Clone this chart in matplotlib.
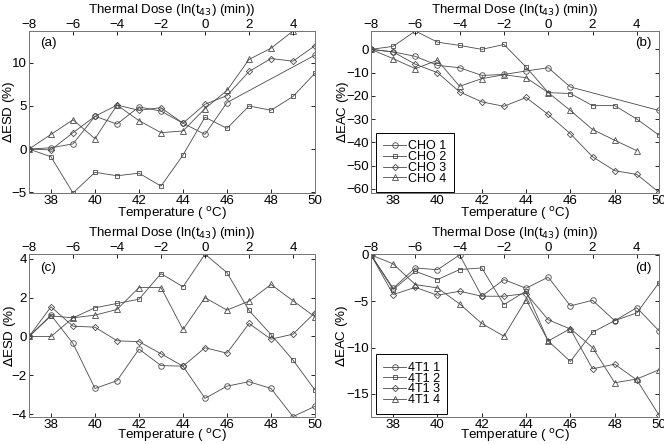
import matplotlib
matplotlib.use('Agg')
import matplotlib.pyplot as plt
import numpy as np

plt.rcParams['font.family'] = ['Liberation Sans', 'DejaVu Sans']
plt.rcParams['font.size'] = 9.6
plt.rcParams['xtick.direction'] = 'in'
plt.rcParams['ytick.direction'] = 'in'
plt.rcParams['xtick.major.size'] = 3
plt.rcParams['ytick.major.size'] = 3

temp = [37, 38, 39, 40, 41, 42, 43, 44, 45, 46, 47, 48, 49, 50]
temp_c1 = [37, 38, 39, 40, 41, 42, 43, 44, 45, 46, 50]   # CHO 1 has gaps
temp_4 = temp[:-1]                                      # CHO 4 ends at 49

# (a) delta ESD, CHO
esd_cho1 = [0, 0.15, 0.6, 3.8, 2.9, 4.9, 4.4, 3.0, 1.7, 5.4, 10.9]
esd_cho2 = [0, -0.9, -5.1, -2.7, -3.1, -2.8, -4.3, -0.7, 3.7, 2.4, 5.0, 4.5, 6.1, 8.8]
esd_cho3 = [0, -0.1, 1.9, 3.8, 5.1, 4.5, 4.8, 3.0, 5.2, 6.2, 9.0, 10.5, 10.2, 12.0]
esd_cho4 = [0, 1.7, 3.4, 1.2, 5.1, 3.3, 1.9, 2.1, 4.7, 6.8, 10.4, 11.7, 13.7]

# (b) delta EAC, CHO
eac_cho1 = [0, -1.1, -3.0, -6.9, -7.9, -11.2, -10.8, -9.3, -7.9, -16.2, -26.3]
eac_cho2 = [0, 1.3, 7.9, 3.1, 1.7, 0, 2.1, -7.6, -18.6, -19.0, -24.2, -24.2, -30.0, -36.9]
eac_cho3 = [0, -1.1, -6.4, -10.0, -18.3, -22.6, -24.5, -20.7, -28.0, -36.3, -46.2, -52.2, -53.8, -61.5]
eac_cho4 = [0, -4.0, -8.3, -4.7, -15.9, -12.6, -10.9, -12.2, -18.6, -26.3, -34.5, -39.1, -43.6]

# (c) delta ESD, 4T1
esd_4t1_1 = [0, 1.1, -0.36, -2.68, -2.28, -0.65, -1.5, -1.53, -3.19, -2.56, -2.33, -2.68, -4.13, -3.6]
esd_4t1_2 = [0, 1.06, 0.96, 1.48, 1.7, 1.92, 3.24, 2.56, 4.24, 3.29, 1.34, 0.1, -1.22, -2.76]
esd_4t1_3 = [0, 1.53, 0.53, 0.48, -0.22, -0.27, -0.89, -1.53, -0.58, -0.86, 0.67, -0.14, 0.12, 1.23]
esd_4t1_4 = [0, 0, 0.96, 1.1, 1.39, 2.52, 2.52, 0.36, 2.0, 1.36, 1.82, 2.68, 1.84, 1.01]

# (d) delta EAC, 4T1
eac_4t1_1 = [0, -3.6, -1.4, -1.6, 0.0, -4.46, -2.66, -3.6, -2.4, -5.5, -4.9, -7.1, -5.7, -8.2]
eac_4t1_2 = [0, -3.74, -1.76, -2.66, -1.58, -1.4, -5.36, -3.9, -9.3, -11.5, -8.35, -7.1, -6.26, -3.0]
eac_4t1_3 = [0, -4.28, -3.5, -4.35, -3.92, -4.46, -4.46, -4.17, -7.0, -8.0, -12.3, -11.8, -13.5, -17.3]
eac_4t1_4 = [0, -0.97, -3.2, -3.56, -5.29, -7.4, -8.78, -4.82, -9.3, -7.95, -10.0, -13.8, -13.4, -12.4]

markers = ['o', 's', 'D', '^']
msizes = [4.0, 3.3, 3.2, 4.2]
col = '#4a4a4a'

fig = plt.figure(figsize=(6.64, 4.44), dpi=100)
W, H = 664.0, 444.0
boxes = [(29, 31, 315, 193), (371, 31, 659, 193),
         (29, 254, 315, 417), (371, 254, 659, 417)]

panels = [
    ([(temp_c1, esd_cho1), (temp, esd_cho2), (temp, esd_cho3), (temp_4, esd_cho4)],
     r'$\Delta$ESD (%)', (-5.1, 13.7), [-5, 0, 5, 10], '(a)', None),
    ([(temp_c1, eac_cho1), (temp, eac_cho2), (temp, eac_cho3), (temp_4, eac_cho4)],
     r'$\Delta$EAC (%)', (-61.8, 7.9), [-60, -50, -40, -30, -20, -10, 0], '(b)',
     ['CHO 1', 'CHO 2', 'CHO 3', 'CHO 4']),
    ([(temp, esd_4t1_1), (temp, esd_4t1_2), (temp, esd_4t1_3), (temp, esd_4t1_4)],
     r'$\Delta$ESD (%)', (-4.15, 4.25), [-4, -2, 0, 2, 4], '(c)', None),
    ([(temp, eac_4t1_1), (temp, eac_4t1_2), (temp, eac_4t1_3), (temp, eac_4t1_4)],
     r'$\Delta$EAC (%)', (-17.5, 0.1), [-15, -10, -5, 0], '(d)',
     ['4T1 1', '4T1 2', '4T1 3', '4T1 4']),
]
tag_pos = [(0.04, 0.925, 'left'), (0.975, 0.925, 'right'),
           (0.04, 0.915, 'left'), (0.975, 0.915, 'right')]
leg_pos = [None, (0.017, 0.005), None, (0.017, 0.02)]
ylab_x = [-0.042, -0.069, -0.040, -0.072]
xlab_y = [-0.072, -0.072, -0.064, -0.064]

for k, (series, ylab, ylim, yticks, tag, names) in enumerate(panels):
    x0, y0, x1, y1 = boxes[k]
    ax = fig.add_axes([x0 / W, 1 - y1 / H, (x1 - x0) / W, (y1 - y0) / H])
    for i, (xs, ys) in enumerate(series):
        ax.plot(xs, ys, color=col, lw=0.6, marker=markers[i], ms=msizes[i],
                mfc='none', mec=col, mew=0.6,
                label=names[i] if names else None)
    ax.set_xlim(37, 50)
    ax.set_ylim(*ylim)
    ax.set_xticks([38, 40, 42, 44, 46, 48, 50])
    ax.set_yticks(yticks)
    ax.tick_params(right=True, length=3, width=0.6, pad=1.5)
    ax.set_xlabel(r'Temperature ( $^{\rm o}$C)')
    ax.xaxis.set_label_coords(0.5, xlab_y[k])
    ax.set_ylabel(ylab)
    ax.yaxis.set_label_coords(ylab_x[k], 0.5)
    for s in ax.spines.values():
        s.set_color('#777777')
        s.set_linewidth(0.7)
    tx, ty, tha = tag_pos[k]
    ax.text(tx, ty, tag, transform=ax.transAxes, va='center', ha=tha)
    if names:
        leg = ax.legend(loc='lower left', bbox_to_anchor=leg_pos[k],
                        fancybox=False, framealpha=1, fontsize=9,
                        edgecolor='black', handlelength=1.8, borderpad=0.6,
                        labelspacing=-0.1, handletextpad=0.15, borderaxespad=0)
        leg.get_frame().set_linewidth(0.7)

    top = ax.twiny()
    top.set_xlim(-8, 5)
    top.set_xticks([-8, -6, -4, -2, 0, 2, 4])
    top.tick_params(length=3, width=0.6, pad=0)
    top.set_xlabel(r'Thermal Dose (ln(t$_{43}$) (min))')
    top.xaxis.set_label_coords(0.5, 1.112)
    for s in top.spines.values():
        s.set_color('#777777')
        s.set_linewidth(0.7)

fig.savefig('out.png', dpi=100)
